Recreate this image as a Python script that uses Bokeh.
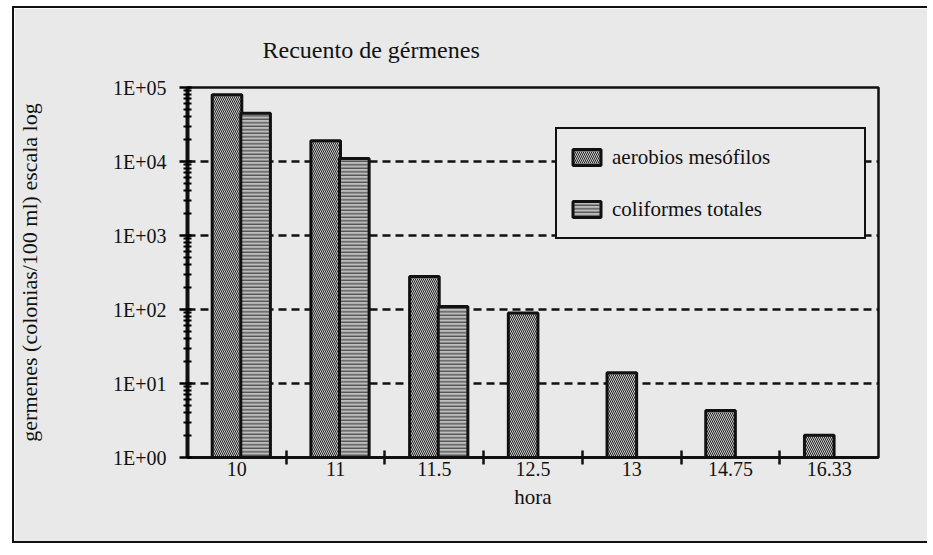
from bokeh.plotting import figure
from bokeh.models import FixedTicker, Range1d, Legend, LegendItem, ColumnDataSource
from bokeh.transform import dodge
from bokeh.embed import file_html
from bokeh.resources import INLINE

# ---- data ----
hours = ["10", "11", "11.5", "12.5", "13", "14.75", "16.33"]
aerobios = [80000, 19000, 280, 90, 14, 4.3, 2.0]
coliformes_hours = ["10", "11", "11.5"]
coliformes = [45000, 11000, 110]
y_ticks = [1, 10, 100, 1000, 10000, 100000]
y_tick_labels = ["1E+00", "1E+01", "1E+02", "1E+03", "1E+04", "1E+05"]
title_text = "Recuento de gérmenes"

BG = "#e9e9e9"
FONT = "Liberation Serif"

p = figure(width=915, height=537,
           x_range=Range1d(-0.5, len(hours) - 0.5),
           y_range=Range1d(y_ticks[0], y_ticks[-1]),
           y_axis_type="log",
           output_backend="svg", toolbar_location=None,
           min_border_left=173, min_border_right=51,
           min_border_top=79, min_border_bottom=88,
           background_fill_color=BG, border_fill_color=BG)
p.styles = {"border-left": "2px solid #111", "border-top": "2px solid #111",
            "border-bottom": "2px solid #111",
            "margin-left": "12px", "margin-top": "6px"}

src_a = ColumnDataSource(dict(idx=list(range(len(hours))), value=aerobios))
src_c = ColumnDataSource(dict(idx=[hours.index(h) for h in coliformes_hours], value=coliformes))

r_a = p.vbar(x=dodge("idx", -0.1, range=p.x_range), top="value", bottom=1, width=0.3,
             source=src_a, fill_color="#cdcdcd", line_color="#111", line_width=3,
             hatch_pattern="left_diagonal_line", hatch_color="#222", hatch_scale=4, hatch_weight=1)
r_c = p.vbar(x=dodge("idx", 0.19, range=p.x_range), top="value", bottom=1, width=0.3,
             source=src_c, fill_color="#bcbcbc", line_color="#111", line_width=3,
             hatch_pattern="horizontal_line", hatch_color="#2a2a2a", hatch_scale=3.5, hatch_weight=1)

# title
p.title.text = title_text
p.title.text_font = FONT
p.title.text_font_size = "24px"
p.title.text_font_style = "normal"
p.title.text_color = "#111"
p.title.align = "left"
p.title.offset = 75
p.title.standoff = 49

# frame
p.outline_line_color = "#111"
p.outline_line_width = 2.5

# grid
p.xgrid.visible = False
p.ygrid.ticker = FixedTicker(ticks=y_ticks)
p.ygrid.grid_line_color = "#111"
p.ygrid.grid_line_width = 2.5
p.ygrid.grid_line_dash = "8 5"

# x axis
xa = p.xaxis[0]
xa.ticker = FixedTicker(ticks=list(range(len(hours))),
                        minor_ticks=[i + 0.5 for i in range(len(hours) - 1)])
xa.major_label_overrides = {i: h for i, h in enumerate(hours)}
xa.major_tick_in = 0
xa.major_tick_out = 0
xa.minor_tick_in = 7
xa.minor_tick_out = 7
xa.minor_tick_line_width = 2.5
xa.minor_tick_line_color = "#111"
xa.axis_line_width = 3
xa.axis_line_color = "#111"
xa.major_label_text_font = FONT
xa.major_label_text_font_size = "20px"
xa.major_label_text_color = "#111"
xa.major_label_standoff = -3
xa.axis_label = "hora"
xa.axis_label_text_font = FONT
xa.axis_label_text_font_size = "21px"
xa.axis_label_text_font_style = "normal"
xa.axis_label_text_color = "#111"
xa.axis_label_standoff = 6

# y axis
ya = p.yaxis[0]
minor = [k * t for t in y_ticks[:-1] for k in range(2, 10)]
ya.ticker = FixedTicker(ticks=y_ticks, minor_ticks=minor)
ya.major_label_overrides = {t: l for t, l in zip(y_ticks, y_tick_labels)}
ya.major_tick_in = 4
ya.major_tick_out = 8
ya.major_tick_line_width = 2.5
ya.minor_tick_in = 4
ya.minor_tick_out = 4
ya.minor_tick_line_width = 2
ya.axis_line_width = 4
ya.axis_line_color = "#111"
ya.major_label_text_font = FONT
ya.major_label_text_font_size = "20px"
ya.major_label_text_color = "#111"
ya.major_label_standoff = 13
ya.axis_label = "germenes (colonias/100 ml) escala log"
ya.axis_label_text_font = FONT
ya.axis_label_text_font_size = "22px"
ya.axis_label_text_font_style = "normal"
ya.axis_label_text_color = "#111"
ya.axis_label_standoff = 68

legend = Legend(items=[LegendItem(label="aerobios mesófilos", renderers=[r_a]),
                       LegendItem(label="coliformes totales", renderers=[r_c])],
                location=(368, 218), orientation="vertical",
                glyph_width=35, glyph_height=20, label_standoff=8,
                label_width=240, label_height=32, spacing=20, padding=12,
                label_text_font=FONT, label_text_font_size="21px", label_text_color="#111",
                border_line_color="#111", border_line_width=2.5, border_line_alpha=1.0,
                background_fill_color=BG, background_fill_alpha=1.0)
p.add_layout(legend)

open("out.html", "w").write(file_html(p, INLINE))
